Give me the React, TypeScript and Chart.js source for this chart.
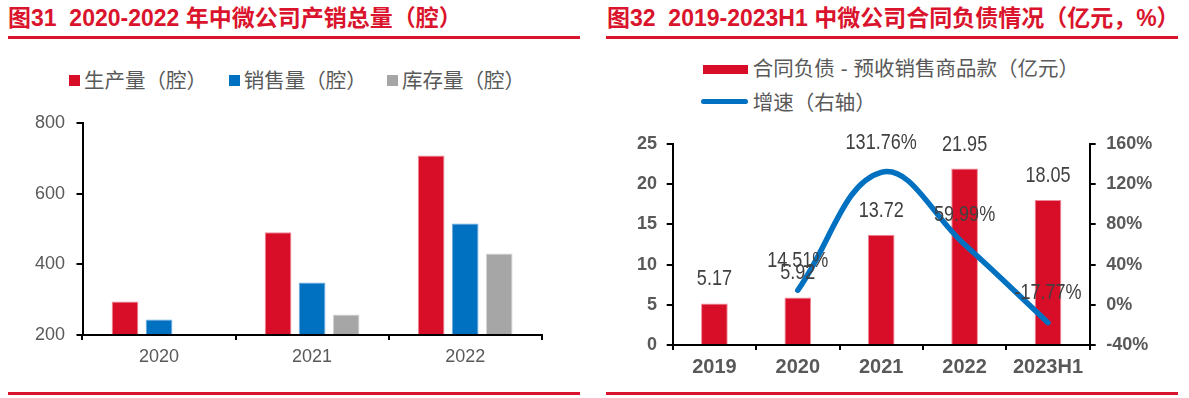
import React, { useEffect, useRef } from 'react';
import { Chart, registerables } from 'chart.js';

Chart.register(...registerables);

// ---------- Data: left chart (图31) ----------
const leftCategories = ['2020', '2021', '2022'];
const productionValues = [295, 491, 709];
const salesValues = [244, 349, 516];
const inventoryValues = [195, 258, 431];
const leftTicks = [200, 400, 600, 800];
const leftSeriesNames = ['生产量（腔）', '销售量（腔）', '库存量（腔）'];

// ---------- Data: right chart (图32) ----------
const rightCategories = ['2019', '2020', '2021', '2022', '2023H1'];
const contractLiabilities = [5.17, 5.92, 13.72, 21.95, 18.05];
const growthRate = [null, 14.51, 131.76, 59.99, -17.77];
const rightAxisTicks = [0, 5, 10, 15, 20, 25];
const growthAxisTicks = [-40, 0, 40, 80, 120, 160];
const rightSeriesNames = ['合同负债-预收销售商品款（亿元）', '增速（右轴）'];

const leftTitle = '图31  2020-2022 年中微公司产销总量（腔）';
const rightTitle = '图32  2019-2023H1 中微公司合同负债情况（亿元，%）';

const RED = '#D80E28';
const BLUE = '#0070C0';
const GRAY = '#A6A6A6';
const TITLE_RED = '#DA142C';
const TEXT = '#595959';
const FONT = "'Liberation Sans', 'Noto Sans CJK SC', sans-serif";

Chart.defaults.font.family = FONT;

const valueLabelPlugin = {
  id: 'valueLabels',
  afterDatasetsDraw(chart: any) {
    const ctx = chart.ctx;
    ctx.save();
    ctx.font = "22px 'Liberation Sans', sans-serif";
    ctx.fillStyle = '#404040';
    ctx.textAlign = 'center';
    ctx.textBaseline = 'middle';
    const order = [1, 0];
    order.forEach((di) => {
      const ds = chart.data.datasets[di];
      const meta = chart.getDatasetMeta(di);
      meta.data.forEach((el: any, i: number) => {
        const v = ds.data[i];
        if (v === null || v === undefined) return;
        const isLine = ds.type === 'line';
        const text = isLine ? `${v.toFixed(2)}%` : v.toFixed(2);
        const off = isLine ? 29.5 : 24;
        ctx.save();
        ctx.translate(el.x, el.y - off);
        ctx.scale(0.82, 1);
        ctx.fillText(text, 0, 0);
        ctx.restore();
      });
    });
    ctx.restore();
  },
};

function tickSetter(values: number[]) {
  return (s: any) => {
    s.ticks = values.map((v) => ({ value: v }));
  };
}

// render text, giving ASCII hyphens a little extra room like the original
function spacedText(text: string) {
  const parts = text.split('-');
  return parts.map((p, i) => (
    <React.Fragment key={i}>
      {i > 0 && <span style={{ margin: '0 6px' }}>-</span>}
      {p}
    </React.Fragment>
  ));
}

export default function App() {
  const leftRef = useRef<HTMLCanvasElement>(null);
  const rightRef = useRef<HTMLCanvasElement>(null);

  useEffect(() => {
    const axisGrid = (len: number) => ({
      display: true,
      drawOnChartArea: false,
      drawTicks: true,
      tickLength: len,
      color: '#000',
      lineWidth: 2,
    });
    const c1 = new Chart(leftRef.current as HTMLCanvasElement, {
      type: 'bar',
      data: {
        labels: leftCategories,
        datasets: [
          { label: leftSeriesNames[0], data: productionValues, backgroundColor: RED, borderColor: '#EE8A98', borderWidth: 1, base: 200 } as any,
          { label: leftSeriesNames[1], data: salesValues, backgroundColor: BLUE, borderColor: '#6AAAE0', borderWidth: 1, base: 200 } as any,
          { label: leftSeriesNames[2], data: inventoryValues, backgroundColor: GRAY, borderColor: '#D4D4D4', borderWidth: 1, base: 200 } as any,
        ],
      },
      options: {
        responsive: false,
        animation: false,
        devicePixelRatio: 1,
        layout: { padding: { left: 0, right: 48.3, top: 23.3, bottom: 20 } },
        plugins: { legend: { display: false }, tooltip: { enabled: false } },
        datasets: { bar: { categoryPercentage: 0.667, barPercentage: 0.785 } },
        scales: {
          x: {
            z: 1,
            grid: { ...axisGrid(5), offset: true },
            border: { display: true, color: '#000', width: 2 },
            ticks: { color: TEXT, font: { size: 18 }, padding: 6 },
            afterFit: (s: any) => { s.height = 35; },
          },
          y: {
            z: 1,
            min: leftTicks[0],
            max: leftTicks[leftTicks.length - 1],
            afterBuildTicks: tickSetter(leftTicks),
            grid: axisGrid(6),
            border: { display: true, color: '#000', width: 2 },
            ticks: { color: TEXT, font: { size: 18 }, padding: 11.5 },
            afterFit: (s: any) => { s.width = 82.5; },
          },
        },
      } as any,
    });

    const c2 = new Chart(rightRef.current as HTMLCanvasElement, {
      type: 'bar',
      data: {
        labels: rightCategories,
        datasets: [
          {
            type: 'line',
            label: rightSeriesNames[1],
            data: growthRate,
            yAxisID: 'y1',
            borderColor: BLUE,
            borderWidth: 5.5,
            pointRadius: 0,
            tension: 0.4,
            spanGaps: true,
            borderCapStyle: 'round',
            borderJoinStyle: 'round',
            order: 0,
          } as any,
          {
            type: 'bar',
            label: rightSeriesNames[0],
            data: contractLiabilities,
            yAxisID: 'y',
            backgroundColor: RED,
            borderColor: '#EE8A98',
            borderWidth: 1,
            categoryPercentage: 0.4,
            barPercentage: 0.8,
            order: 1,
          } as any,
        ],
      },
      options: {
        responsive: false,
        animation: false,
        devicePixelRatio: 1,
        layout: { padding: { left: 0, right: 9.3, top: 24, bottom: 5 } },
        plugins: { legend: { display: false }, tooltip: { enabled: false } },
        scales: {
          x: {
            z: 1,
            grid: { ...axisGrid(5), offset: true },
            border: { display: true, color: '#000', width: 2 },
            ticks: { color: TEXT, font: { size: 20, weight: 'bold' }, padding: 5.5 },
            afterFit: (s: any) => { s.height = 40; },
          },
          y: {
            z: 1,
            position: 'left',
            min: rightAxisTicks[0],
            max: rightAxisTicks[rightAxisTicks.length - 1],
            afterBuildTicks: tickSetter(rightAxisTicks),
            grid: axisGrid(6),
            border: { display: true, color: '#000', width: 2 },
            ticks: { color: TEXT, font: { size: 18, weight: 'bold' }, padding: 9.7 },
            afterFit: (s: any) => { s.width = 72.7; },
          },
          y1: {
            z: 1,
            position: 'right',
            min: growthAxisTicks[0],
            max: growthAxisTicks[growthAxisTicks.length - 1],
            afterBuildTicks: tickSetter(growthAxisTicks),
            grid: axisGrid(6),
            border: { display: true, color: '#000', width: 2 },
            ticks: { color: TEXT, font: { size: 18, weight: 'bold' }, padding: 10.6, callback: (v: any) => `${v}%` },
            afterFit: (s: any) => { s.width = 90; },
          },
        },
      } as any,
      plugins: [valueLabelPlugin],
    });

    return () => {
      c1.destroy();
      c2.destroy();
    };
  }, []);

  const titleStyle = (left: number): React.CSSProperties => ({
    position: 'absolute',
    left,
    top: 7.2,
    fontFamily: FONT,
    fontWeight: 'bold',
    fontSize: 23,
    lineHeight: '23px',
    color: TITLE_RED,
    whiteSpace: 'pre',
  });
  const rule = (left: number, width: number, top: number): React.CSSProperties => ({
    position: 'absolute',
    left,
    top,
    width,
    height: 3,
    background: TITLE_RED,
  });
  const legendText = (left: number, centerY: number): React.CSSProperties => ({
    position: 'absolute',
    left,
    top: centerY - 10.1,
    fontFamily: FONT,
    fontSize: 20.5,
    lineHeight: '22px',
    color: TEXT,
    whiteSpace: 'pre',
  });
  const box = (left: number, top: number, w: number, h: number, bg: string, radius = 0): React.CSSProperties => ({
    position: 'absolute',
    left,
    top,
    width: w,
    height: h,
    background: bg,
    borderRadius: radius,
  });

  const leftColors = [RED, BLUE, GRAY];
  const leftLegendX = [69, 228.7, 387];

  return (
    <div style={{ position: 'absolute', left: 0, top: 0, width: 1189, height: 398, background: '#fff', overflow: 'hidden' }}>
      <div style={titleStyle(8)}>{leftTitle}</div>
      <div style={rule(8, 572, 36)} />
      {leftSeriesNames.map((name, i) => (
        <React.Fragment key={name}>
          <div style={box(leftLegendX[i], 75, 11, 11, leftColors[i])} />
          <div style={legendText(leftLegendX[i] + 15, 80)}>{name}</div>
        </React.Fragment>
      ))}
      <canvas ref={leftRef} width={590} height={290} style={{ position: 'absolute', left: 0, top: 100, width: 590, height: 290 }} />
      <div style={rule(8, 572, 392)} />

      <div style={titleStyle(607)}>{rightTitle}</div>
      <div style={rule(606, 572, 36)} />
      <div style={box(702.7, 65, 45, 9, RED)} />
      <div style={legendText(752.7, 68.5)}>{spacedText(rightSeriesNames[0])}</div>
      <div style={box(700.7, 99, 47.3, 5, BLUE, 3)} />
      <div style={legendText(752.7, 101.7)}>{rightSeriesNames[1]}</div>
      <canvas ref={rightRef} width={589} height={270} style={{ position: 'absolute', left: 600, top: 120, width: 589, height: 270 }} />
      <div style={rule(606, 572, 392)} />
    </div>
  );
}
